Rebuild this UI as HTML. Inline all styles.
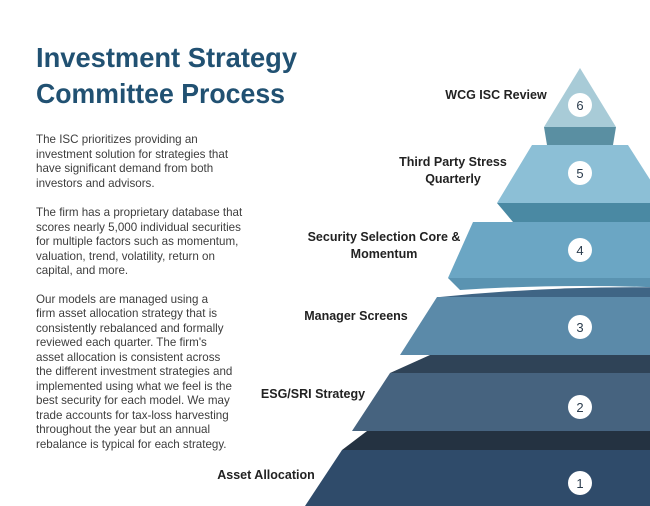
<!DOCTYPE html>
<html><head><meta charset="utf-8"><style>
html,body{margin:0;padding:0;background:#fff;}
body{width:650px;height:506px;overflow:hidden;position:relative;font-family:"Liberation Sans",sans-serif;}
svg{position:absolute;left:0;top:0;}
</style></head><body>
<svg width="650" height="506" viewBox="0 0 650 506" xmlns="http://www.w3.org/2000/svg">
<g font-family="Liberation Sans, sans-serif">
<text x="36" y="67" font-size="28" font-weight="bold" fill="#215172" textLength="261" lengthAdjust="spacingAndGlyphs">Investment Strategy</text>
<text x="36" y="103" font-size="28" font-weight="bold" fill="#215172" textLength="249" lengthAdjust="spacingAndGlyphs">Committee Process</text>
<g font-size="11.6" fill="#3d3d3d">
<text x="36" y="143">The ISC prioritizes providing an</text>
<text x="36" y="158">investment solution for strategies that</text>
<text x="36" y="172">have significant demand from both</text>
<text x="36" y="187">investors and advisors.</text>
<text x="36" y="216">The firm has a proprietary database that</text>
<text x="36" y="231">scores nearly 5,000 individual securities</text>
<text x="36" y="245">for multiple factors such as momentum,</text>
<text x="36" y="260">valuation, trend, volatility, return on</text>
<text x="36" y="274">capital, and more.</text>
<text x="36" y="303">Our models are managed using a</text>
<text x="36" y="317">firm asset allocation strategy that is</text>
<text x="36" y="332">consistently rebalanced and formally</text>
<text x="36" y="346">reviewed each quarter.  The firm's</text>
<text x="36" y="361">asset allocation is consistent across</text>
<text x="36" y="375">the different investment strategies and</text>
<text x="36" y="390">implemented using what we feel is the</text>
<text x="36" y="404">best security for each model.  We may</text>
<text x="36" y="419">trade accounts for tax-loss harvesting</text>
<text x="36" y="433">throughout the year but an annual</text>
<text x="36" y="448">rebalance is typical for each strategy.</text>
</g>
</g>
<!-- tier 6 -->
<polygon points="580,68 616,127 544,127" fill="#a8cbd7"/>
<polygon points="544,127 616,127 613,145 547,145" fill="#5a8fa2"/>
<!-- tier 5 -->
<polygon points="532,145 628,145 665,203 497,203" fill="#8cbfd6"/>
<polygon points="497,203 665,203 650,222 513,222" fill="#4a89a3"/>
<!-- tier 4 -->
<polygon points="473,222 687,222 712,278 448,278" fill="#6ba6c4"/>
<path d="M448,278 L712,278 L712,290 Q580,282 460,290 Z" fill="#5a93b1"/>
<path d="M440,297 Q580,283 712,289 L712,297 Z" fill="#3f6585"/>
<!-- tier 3 -->
<polygon points="437,297 712,297 712,355 400,355" fill="#5b8aa9"/>
<polygon points="430,355 712,355 712,373 390,373" fill="#2f4357"/>
<!-- tier 2 -->
<polygon points="390,373 712,373 712,431 352,431" fill="#46637f"/>
<polygon points="367,431 712,431 712,450 342,450" fill="#243241"/>
<!-- tier 1 -->
<polygon points="342,450 712,450 712,506 305,506" fill="#2f4b6a"/>
<g fill="#fff">
<circle cx="580" cy="105" r="12"/><circle cx="580" cy="173" r="12"/><circle cx="580" cy="250" r="12"/>
<circle cx="580" cy="327" r="12"/><circle cx="580" cy="407" r="12"/><circle cx="580" cy="483" r="12"/>
</g>
<g font-family="Liberation Sans, sans-serif" font-size="13" fill="#2a3b4c" text-anchor="middle">
<text x="580" y="110">6</text><text x="580" y="178">5</text><text x="580" y="255">4</text>
<text x="580" y="332">3</text><text x="580" y="412">2</text><text x="580" y="488">1</text>
</g>
<g font-family="Liberation Sans, sans-serif" font-size="12.5" font-weight="bold" fill="#222" text-anchor="middle">
<text x="496" y="99">WCG ISC Review</text>
<text x="453" y="166">Third Party Stress</text>
<text x="453" y="183">Quarterly</text>
<text x="384" y="241">Security Selection Core &amp;</text>
<text x="384" y="258">Momentum</text>
<text x="356" y="320">Manager Screens</text>
<text x="313" y="398">ESG/SRI Strategy</text>
<text x="266" y="479">Asset Allocation</text>
</g>
</svg>
</body></html>
